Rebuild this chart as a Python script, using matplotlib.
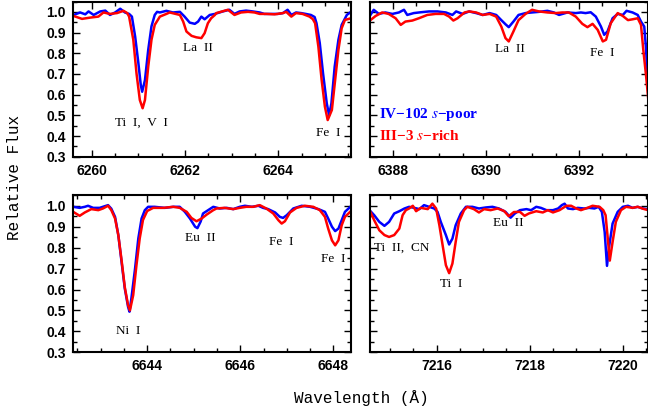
import matplotlib
matplotlib.use('Agg')
import matplotlib.pyplot as plt
from matplotlib.ticker import MultipleLocator
import numpy as np

# --- 6260 A window ---
wl1_poor = [6259.61, 6259.75, 6259.86, 6259.93, 6260.04, 6260.18, 6260.29, 6260.39, 6260.50,
            6260.61, 6260.71, 6260.80, 6260.86, 6260.93, 6261.00, 6261.05, 6261.08, 6261.14,
            6261.21, 6261.28, 6261.35, 6261.40, 6261.46, 6261.60, 6261.74, 6261.89, 6261.99,
            6262.10, 6262.21, 6262.28, 6262.35, 6262.42, 6262.53, 6262.64, 6262.81, 6262.95,
            6263.06, 6263.17, 6263.31, 6263.45, 6263.60, 6263.70, 6263.85, 6263.99, 6264.10,
            6264.20, 6264.28, 6264.38, 6264.49, 6264.59, 6264.70, 6264.78, 6264.82, 6264.89,
            6264.96, 6265.04, 6265.09, 6265.14, 6265.21, 6265.29, 6265.36, 6265.47, 6265.56]
fx1_poor = [0.985, 0.997, 0.988, 1.002, 0.985, 1.002, 1.006, 0.985, 0.997,
            1.015, 0.997, 0.990, 0.977, 0.880, 0.750, 0.647, 0.614, 0.670,
            0.816, 0.930, 0.985, 1.000, 0.997, 1.005, 0.997, 1.000, 0.977,
            0.948, 0.942, 0.953, 0.977, 0.964, 0.985, 0.990, 1.002, 1.010,
            0.990, 1.002, 1.006, 1.002, 0.997, 0.990, 0.990, 0.990, 0.994,
            1.010, 0.985, 0.997, 0.994, 0.990, 0.985, 0.975, 0.945, 0.849,
            0.703, 0.558, 0.500, 0.558, 0.735, 0.865, 0.937, 0.985, 1.000]
wl1_rich = [6259.61, 6259.79, 6259.96, 6260.14, 6260.25, 6260.39, 6260.54, 6260.68, 6260.76,
            6260.80, 6260.89, 6260.96, 6261.03, 6261.09, 6261.14, 6261.21, 6261.28, 6261.35,
            6261.46, 6261.60, 6261.67, 6261.89, 6261.96, 6262.03, 6262.14, 6262.24, 6262.35,
            6262.42, 6262.49, 6262.56, 6262.64, 6262.67, 6262.92, 6263.06, 6263.20, 6263.35,
            6263.49, 6263.60, 6263.74, 6263.92, 6264.10, 6264.17, 6264.28, 6264.38, 6264.52,
            6264.67, 6264.74, 6264.79, 6264.86, 6264.93, 6265.00, 6265.06, 6265.15, 6265.22,
            6265.29, 6265.36, 6265.43, 6265.56]
fx1_rich = [0.980, 0.966, 0.972, 0.977, 0.997, 0.990, 0.994, 1.005, 0.994,
            0.977, 0.865, 0.700, 0.574, 0.534, 0.574, 0.735, 0.865, 0.937,
            0.977, 0.990, 0.997, 0.985, 0.953, 0.905, 0.884, 0.877, 0.873,
            0.897, 0.945, 0.969, 0.985, 0.994, 1.010, 0.985, 0.997, 1.000,
            0.997, 0.990, 0.990, 0.988, 0.994, 1.000, 0.977, 0.994, 0.990,
            0.977, 0.965, 0.945, 0.832, 0.671, 0.542, 0.477, 0.526, 0.671,
            0.816, 0.921, 0.961, 0.969]

# --- 6390 A window ---
wl2_poor = [6387.52, 6387.59, 6387.70, 6387.84, 6387.99, 6388.13, 6388.24, 6388.31, 6388.45,
            6388.60, 6388.78, 6388.96, 6389.14, 6389.28, 6389.36, 6389.50, 6389.64, 6389.79,
            6389.93, 6390.08, 6390.22, 6390.33, 6390.42, 6390.49, 6390.59, 6390.70, 6390.85,
            6390.99, 6391.14, 6391.32, 6391.46, 6391.57, 6391.75, 6391.93, 6392.04, 6392.14,
            6392.25, 6392.36, 6392.47, 6392.54, 6392.61, 6392.72, 6392.83, 6392.94, 6393.02,
            6393.15, 6393.26, 6393.33, 6393.40, 6393.44, 6393.47, 6393.52]
fx2_poor = [0.985, 1.010, 0.990, 0.997, 0.990, 0.997, 1.010, 0.985, 0.994,
            0.998, 1.002, 1.002, 0.997, 0.985, 1.002, 0.990, 1.002, 0.994,
            0.985, 0.994, 0.985, 0.960, 0.940, 0.926, 0.953, 0.985, 0.994,
            0.997, 1.000, 1.005, 0.997, 0.985, 0.997, 0.994, 0.997, 0.994,
            0.998, 0.977, 0.929, 0.889, 0.905, 0.969, 0.990, 0.985, 1.005,
            0.997, 0.985, 0.953, 0.929, 0.820, 0.680, 0.560]
wl2_rich = [6387.52, 6387.63, 6387.77, 6387.91, 6388.06, 6388.17, 6388.27, 6388.42, 6388.56,
            6388.74, 6388.92, 6389.10, 6389.21, 6389.30, 6389.39, 6389.54, 6389.64, 6389.79,
            6389.93, 6390.08, 6390.22, 6390.33, 6390.42, 6390.49, 6390.59, 6390.70, 6390.85,
            6390.99, 6391.14, 6391.32, 6391.50, 6391.64, 6391.78, 6391.93, 6392.07, 6392.18,
            6392.29, 6392.40, 6392.51, 6392.58, 6392.68, 6392.83, 6392.94, 6393.05, 6393.15,
            6393.26, 6393.33, 6393.38, 6393.44, 6393.50, 6393.56]
fx2_rich = [0.960, 0.980, 0.997, 0.990, 0.969, 0.937, 0.953, 0.958, 0.969,
            0.985, 0.990, 0.990, 0.977, 0.958, 0.969, 0.997, 1.002, 0.997,
            0.985, 0.990, 0.977, 0.929, 0.873, 0.857, 0.905, 0.960, 0.990,
            1.010, 1.002, 0.997, 0.994, 0.997, 0.997, 0.977, 0.942, 0.926,
            0.942, 0.913, 0.857, 0.865, 0.945, 0.994, 0.980, 0.960, 0.964,
            0.969, 0.937, 0.816, 0.690, 0.545, 0.400]

# --- 6645 A window ---
wl3_poor = [6642.41, 6642.55, 6642.66, 6642.73, 6642.84, 6642.98, 6643.09, 6643.16, 6643.23,
            6643.31, 6643.38, 6643.45, 6643.52, 6643.59, 6643.62, 6643.66, 6643.74, 6643.81,
            6643.88, 6643.95, 6644.02, 6644.16, 6644.38, 6644.56, 6644.70, 6644.81, 6644.92,
            6645.03, 6645.08, 6645.15, 6645.20, 6645.31, 6645.42, 6645.56, 6645.71, 6645.85,
            6645.99, 6646.10, 6646.25, 6646.39, 6646.49, 6646.60, 6646.75, 6646.85, 6646.92,
            6647.00, 6647.14, 6647.32, 6647.50, 6647.68, 6647.82, 6647.89, 6647.97, 6648.04,
            6648.11, 6648.18, 6648.25, 6648.38]
fx3_poor = [0.995, 0.990, 0.995, 1.000, 0.990, 0.990, 0.998, 1.003, 0.986,
            0.947, 0.860, 0.732, 0.604, 0.517, 0.494, 0.556, 0.700, 0.844,
            0.939, 0.979, 0.995, 0.995, 0.990, 0.995, 0.995, 0.971, 0.939,
            0.900, 0.893, 0.925, 0.963, 0.979, 0.995, 0.987, 0.990, 0.984,
            0.995, 1.000, 0.995, 1.000, 0.990, 0.984, 0.968, 0.947, 0.942,
            0.955, 0.987, 1.000, 0.995, 0.984, 0.971, 0.939, 0.900, 0.879,
            0.891, 0.931, 0.971, 0.998]
wl3_rich = [6642.41, 6642.55, 6642.66, 6642.80, 6642.95, 6643.05, 6643.16, 6643.23, 6643.31,
            6643.38, 6643.45, 6643.52, 6643.59, 6643.63, 6643.70, 6643.77, 6643.84, 6643.91,
            6644.00, 6644.13, 6644.35, 6644.56, 6644.70, 6644.85, 6644.95, 6645.06, 6645.17,
            6645.28, 6645.42, 6645.49, 6645.66, 6645.85, 6645.99, 6646.13, 6646.28, 6646.42,
            6646.56, 6646.71, 6646.82, 6646.89, 6646.96, 6647.07, 6647.21, 6647.39, 6647.57,
            6647.71, 6647.82, 6647.89, 6647.97, 6648.04, 6648.11, 6648.18, 6648.25, 6648.38]
fx3_rich = [0.971, 0.952, 0.968, 0.984, 0.979, 0.987, 1.000, 0.979, 0.939,
            0.860, 0.740, 0.610, 0.525, 0.500, 0.573, 0.716, 0.844, 0.932,
            0.975, 0.990, 0.990, 0.995, 0.990, 0.971, 0.942, 0.926, 0.939,
            0.958, 0.979, 0.987, 0.990, 0.984, 0.990, 0.995, 0.995, 1.003,
            0.987, 0.963, 0.931, 0.915, 0.926, 0.968, 0.990, 1.000, 0.995,
            0.979, 0.947, 0.891, 0.835, 0.811, 0.835, 0.907, 0.947, 0.975]

# --- 7217 A window ---
wl4_poor = [7214.56, 7214.66, 7214.77, 7214.88, 7214.98, 7215.09, 7215.20, 7215.31, 7215.41,
            7215.52, 7215.63, 7215.73, 7215.84, 7215.95, 7216.02, 7216.09, 7216.20, 7216.27,
            7216.34, 7216.41, 7216.52, 7216.63, 7216.77, 7216.91, 7217.06, 7217.20, 7217.34,
            7217.48, 7217.59, 7217.68, 7217.79, 7217.93, 7218.03, 7218.14, 7218.24, 7218.36,
            7218.50, 7218.61, 7218.69, 7218.75, 7218.82, 7218.93, 7219.03, 7219.17, 7219.28,
            7219.39, 7219.48, 7219.55, 7219.61, 7219.66, 7219.71, 7219.78, 7219.89, 7220.00,
            7220.11, 7220.21, 7220.32, 7220.43, 7220.53]
fx4_poor = [0.979, 0.955, 0.923, 0.904, 0.923, 0.963, 0.974, 0.987, 0.995,
            0.990, 0.984, 1.003, 0.995, 0.987, 0.971, 0.923, 0.860, 0.815,
            0.843, 0.907, 0.963, 0.995, 0.995, 0.987, 0.992, 0.995, 0.987,
            0.971, 0.943, 0.963, 0.979, 0.984, 0.979, 0.995, 0.990, 0.979,
            0.979, 0.987, 1.003, 1.010, 0.987, 0.984, 0.990, 0.987, 0.990,
            0.987, 0.995, 0.971, 0.875, 0.713, 0.811, 0.915, 0.971, 0.995,
            1.000, 0.990, 0.995, 0.987, 0.984]
wl4_rich = [7214.56, 7214.66, 7214.77, 7214.88, 7214.98, 7215.09, 7215.20, 7215.27, 7215.34,
            7215.41, 7215.49, 7215.56, 7215.66, 7215.81, 7215.91, 7215.99, 7216.06, 7216.13,
            7216.20, 7216.27, 7216.34, 7216.41, 7216.48, 7216.59, 7216.66, 7216.80, 7216.91,
            7217.02, 7217.16, 7217.31, 7217.45, 7217.55, 7217.66, 7217.79, 7217.89, 7217.98,
            7218.14, 7218.28, 7218.39, 7218.50, 7218.64, 7218.79, 7218.89, 7219.00, 7219.10,
            7219.24, 7219.35, 7219.50, 7219.58, 7219.63, 7219.67, 7219.72, 7219.78, 7219.85,
            7219.96, 7220.07, 7220.21, 7220.32, 7220.46, 7220.53]
fx4_rich = [0.979, 0.931, 0.883, 0.860, 0.851, 0.860, 0.891, 0.955, 0.979,
            0.987, 1.000, 0.974, 0.990, 0.984, 1.010, 0.987, 0.907, 0.811,
            0.716, 0.678, 0.724, 0.827, 0.923, 0.979, 0.995, 0.984, 0.968,
            0.984, 0.979, 0.987, 0.975, 0.950, 0.970, 0.971, 0.952, 0.963,
            0.974, 0.968, 0.979, 0.968, 0.979, 1.000, 1.000, 0.987, 0.979,
            0.990, 1.000, 0.995, 0.979, 0.955, 0.860, 0.738, 0.827, 0.923,
            0.979, 0.995, 0.990, 0.995, 0.984, 0.980]

xlims = [(6259.59, 6265.56), (6387.51, 6393.47), (6642.40, 6648.38), (7214.57, 7220.53)]

# line IDs: (text, wavelength, flux, alignment)
labels1 = [('Ti  I,  V  I', 6261.06, 0.463, 'center'), ('La  II', 6262.28, 0.827, 'center'),
           ('Fe  I', 6265.08, 0.416, 'center')]
labels2 = [('La  II', 6390.51, 0.820, 'center'), ('Fe  I', 6392.50, 0.800, 'center')]
labels3 = [('Ni  I', 6643.59, 0.402, 'center'), ('Eu  II', 6645.15, 0.848, 'center'),
           ('Fe  I', 6646.89, 0.826, 'center'), ('Fe  I', 6647.99, 0.746, 'center')]
labels4 = [('Ti  II,  CN', 7214.66, 0.798, 'left'), ('Ti  I', 7216.32, 0.627, 'center'),
           ('Eu  II', 7217.55, 0.917, 'center')]

star_poor = 'IV\u2212102 $\\mathbf{\\mathit{s}}$\u2212poor'
star_rich = 'III\u22123 $\\mathbf{\\mathit{s}}$\u2212rich'

plt.rcParams['mathtext.fontset'] = 'stix'

fig = plt.figure(figsize=(6.48, 4.16), dpi=100)
W, H = 648., 416.
boxes = [(72.7, 1.5, 351.0, 156.7), (370.0, 1.5, 647.5, 156.7),
         (72.7, 195.3, 351.0, 352.3), (370.0, 195.3, 647.5, 352.3)]
axes = []
for (x0, y0, x1, y1) in boxes:
    axes.append(fig.add_axes([x0 / W, 1 - y1 / H, (x1 - x0) / W, (y1 - y0) / H]))

data = [(wl1_poor, fx1_poor, wl1_rich, fx1_rich, labels1),
        (wl2_poor, fx2_poor, wl2_rich, fx2_rich, labels2),
        (wl3_poor, fx3_poor, wl3_rich, fx3_rich, labels3),
        (wl4_poor, fx4_poor, wl4_rich, fx4_rich, labels4)]

for i, (ax, (wp, fp, wr, fr, labs)) in enumerate(zip(axes, data)):
    ax.plot(wp, fp, color='#0000ff', lw=1.8, solid_joinstyle='round')
    ax.plot(wr, fr, color='#ff0000', lw=1.8, solid_joinstyle='round')
    ax.set_xlim(*xlims[i])
    ax.set_ylim(0.3, 1.05)
    ax.xaxis.set_major_locator(MultipleLocator(2))
    ax.xaxis.set_minor_locator(MultipleLocator(0.5))
    ax.yaxis.set_major_locator(MultipleLocator(0.1))
    ax.yaxis.set_minor_locator(MultipleLocator(0.05))
    ax.yaxis.set_major_formatter(plt.FormatStrFormatter('%.1f'))
    ax.tick_params(which='both', direction='in', top=True, right=True, width=1.0)
    ax.tick_params(which='major', length=5, pad=5)
    ax.tick_params(which='minor', length=3)
    for lab in ax.get_xticklabels() + ax.get_yticklabels():
        lab.set_fontfamily('Liberation Sans')
        lab.set_fontweight('bold')
        lab.set_fontsize(10)
    if i % 2 == 1:
        ax.tick_params(labelleft=False)
    for s in ax.spines.values():
        s.set_linewidth(1.5)
    for text, x, y, ha in labs:
        ax.text(x, y, text, ha=ha, va='center', fontsize=9.5, family='Liberation Serif')

axes[1].text(6387.70, 0.505, star_poor, color='#0000ff', fontsize=11, fontweight='bold',
             family='Liberation Serif', va='center')
axes[1].text(6387.70, 0.400, star_rich, color='#ff0000', fontsize=11, fontweight='bold',
             family='Liberation Serif', va='center')

fig.text(15 / W, 1 - 177 / H, 'Relative Flux', rotation=90, ha='center', va='center',
         fontsize=11.5, family='Liberation Mono')
fig.text(361 / W, 1 - 398 / H, 'Wavelength (\u00c5)', ha='center', va='center',
         fontsize=11.5, family='Liberation Mono')

fig.savefig('out.png', dpi=100)
